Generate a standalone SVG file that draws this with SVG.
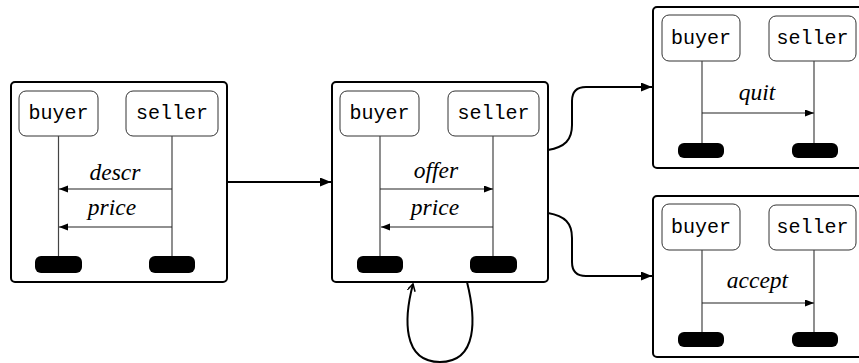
<svg xmlns="http://www.w3.org/2000/svg" width="859" height="363" viewBox="0 0 859 363">
<defs>
<marker id="big" markerUnits="userSpaceOnUse" markerWidth="12" markerHeight="10" refX="11" refY="4.5" orient="auto">
<path d="M0,0 L11,4.5 L0,9 z" fill="#000"/>
</marker>
<marker id="msg" markerUnits="userSpaceOnUse" markerWidth="10" markerHeight="8" refX="9" refY="3.5" orient="auto">
<path d="M0,0 L9,3.5 L0,7 z" fill="#000"/>
</marker>
<marker id="open" markerUnits="userSpaceOnUse" markerWidth="12" markerHeight="12" refX="7" refY="4" orient="auto">
<path d="M0,0 L7,4 L0,8" fill="none" stroke="#000" stroke-width="1.5"/>
</marker>
<style>
.frame{fill:#fff;stroke:#000;stroke-width:2}
.role{fill:#fff;stroke:#333;stroke-width:1}
.life{stroke:#444;stroke-width:1.2}
.bar{fill:#000}
.msg{stroke:#222;stroke-width:1.1;marker-end:url(#msg)}
.rt{font-family:"Liberation Mono",monospace;font-size:20px;text-anchor:middle;fill:#000}
.lb{font-family:"Liberation Serif",serif;font-style:italic;font-size:23.5px;text-anchor:middle;fill:#000}
.con{fill:none;stroke:#000;stroke-width:2}
</style>
</defs>
<rect width="859" height="363" fill="#fff"/>

<g id="state1">
<rect class="frame" x="11" y="82" width="216" height="200" rx="4"/>
<rect class="role" x="19" y="91" width="79" height="45" rx="7"/>
<rect class="role" x="126" y="91" width="92" height="45" rx="7"/>
<text class="rt" x="58.5" y="119">buyer</text>
<text class="rt" x="172" y="119">seller</text>
<line class="life" x1="58.5" y1="136" x2="58.5" y2="256"/>
<line class="life" x1="172" y1="136" x2="172" y2="256"/>
<text class="lb" x="115" y="180">descr</text>
<line class="msg" x1="172" y1="189" x2="59" y2="189"/>
<text class="lb" x="112" y="215">price</text>
<line class="msg" x1="172" y1="227" x2="59" y2="227"/>
<rect class="bar" x="35" y="256" width="47" height="17" rx="6"/>
<rect class="bar" x="149" y="256" width="46" height="17" rx="6"/>
</g>

<g id="state2">
<rect class="frame" x="332" y="82" width="216" height="200" rx="4"/>
<rect class="role" x="340" y="91" width="79" height="45" rx="7"/>
<rect class="role" x="448" y="91" width="91" height="45" rx="7"/>
<text class="rt" x="379.5" y="119">buyer</text>
<text class="rt" x="493.5" y="119">seller</text>
<line class="life" x1="380" y1="136" x2="380" y2="256"/>
<line class="life" x1="493" y1="136" x2="493" y2="256"/>
<text class="lb" x="436" y="178">offer</text>
<line class="msg" x1="380" y1="189" x2="493" y2="189"/>
<text class="lb" x="435" y="215">price</text>
<line class="msg" x1="493" y1="227" x2="381" y2="227"/>
<rect class="bar" x="357" y="256" width="46" height="17" rx="6"/>
<rect class="bar" x="470" y="256" width="47" height="17" rx="6"/>
</g>

<g id="state3">
<rect class="frame" x="653" y="7" width="220" height="161" rx="4"/>
<rect class="role" x="662" y="15" width="78" height="46" rx="7"/>
<rect class="role" x="769" y="16" width="87" height="45" rx="7"/>
<text class="rt" x="701" y="43.5">buyer</text>
<text class="rt" x="812.5" y="43.5">seller</text>
<line class="life" x1="702" y1="61" x2="702" y2="143"/>
<line class="life" x1="814" y1="61" x2="814" y2="143"/>
<text class="lb" x="757" y="100">quit</text>
<line class="msg" x1="702" y1="113" x2="814" y2="113"/>
<rect class="bar" x="678" y="143" width="46" height="15" rx="6"/>
<rect class="bar" x="792" y="143" width="46" height="15" rx="6"/>
</g>

<g id="state4">
<rect class="frame" x="653" y="196" width="220" height="161" rx="4"/>
<rect class="role" x="662" y="204" width="78" height="46" rx="7"/>
<rect class="role" x="769" y="205" width="87" height="45" rx="7"/>
<text class="rt" x="701" y="232.5">buyer</text>
<text class="rt" x="812.5" y="232.5">seller</text>
<line class="life" x1="702" y1="250" x2="702" y2="332"/>
<line class="life" x1="814" y1="250" x2="814" y2="332"/>
<text class="lb" x="757.5" y="288">accept</text>
<line class="msg" x1="702" y1="303" x2="814" y2="303"/>
<rect class="bar" x="678" y="332" width="46" height="15" rx="6"/>
<rect class="bar" x="792" y="332" width="46" height="15" rx="6"/>
</g>

<g id="connectors">
<line class="con" x1="227" y1="182" x2="331" y2="182" marker-end="url(#big)"/>
<path class="con" d="M548,150 C565,147 572,140 572,125 L572,101 Q572,87 586,87 L652,87" marker-end="url(#big)"/>
<path class="con" d="M548,213 C565,216 572,223 572,238 L572,262 Q572,276 586,276 L652,276" marker-end="url(#big)"/>
<path class="con" d="M467,282 C476,318 478,362 440,362 C402,362 404,318 413,284" marker-end="url(#open)"/>
</g>
</svg>
